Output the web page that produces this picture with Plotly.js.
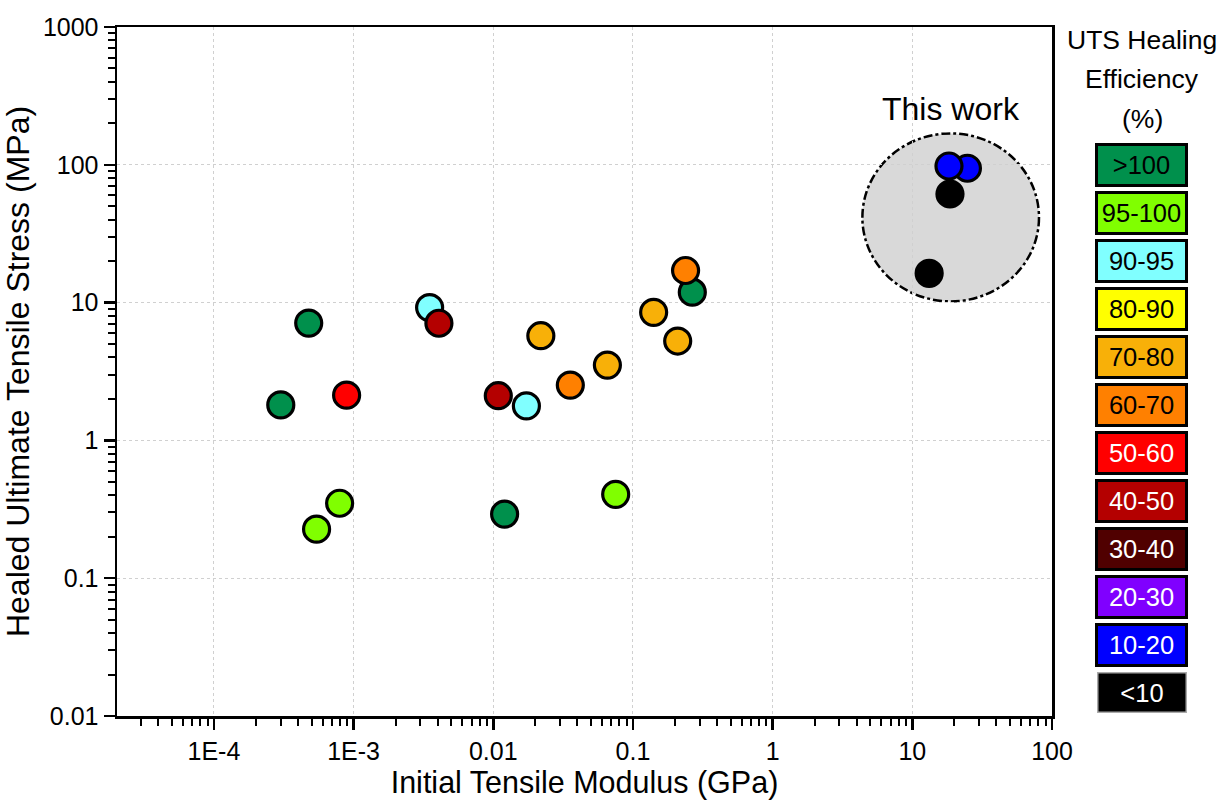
<!DOCTYPE html>
<html>
<head>
<meta charset="utf-8">
<script src="https://cdn.plot.ly/plotly-3.0.1.min.js"></script>
<style>html,body{margin:0;padding:0;background:#fff;}#chart{width:1223px;height:800px;}</style>
</head>
<body>
<div id="chart"></div>
<script>
// ---- Data ----
const modulusGPa = [3.01e-4, 4.77e-4, 8.91e-4, 7.94e-4, 5.43e-4, 3.50e-3, 4.08e-3, 0.0219, 0.01086, 0.01726, 0.0356, 0.0656, 0.266, 0.238, 0.1406, 0.209, 0.0752, 0.01205, 13.2, 18.6, 24.8, 18.3];
const healedUTS  = [1.81, 7.1, 2.13, 0.35, 0.227, 9.2, 7.08, 5.75, 2.11, 1.78, 2.52, 3.52, 11.9, 17.1, 8.5, 5.26, 0.406, 0.292, 16.3, 61.4, 94.4, 98];
const efficiencyClass = ['>100','>100','50-60','95-100','95-100','90-95','40-50','70-80','40-50','90-95','60-70','70-80','>100','60-70','70-80','70-80','95-100','>100','<10','<10','10-20','10-20'];

const classLabels = ['>100','95-100','90-95','80-90','70-80','60-70','50-60','40-50','30-40','20-30','10-20','<10'];
const classColors = ['#00904C','#80FF00','#80FFFF','#FFFF00','#F8B008','#FF8000','#FF0000','#B40000','#500000','#8000FF','#0000FF','#000000'];
const classTextColors = ['#000','#000','#000','#000','#000','#000','#fff','#fff','#fff','#fff','#fff','#fff'];

const xTickVals = [1e-4, 1e-3, 0.01, 0.1, 1, 10, 100];
const xTickText = ['1E-4','1E-3','0.01','0.1','1','10','100'];
const yTickVals = [0.01, 0.1, 1, 10, 100, 1000];
const yTickText = ['0.01','0.1','1','10','100','1000'];

// "This work" region (data coordinates)
const thisWorkX = [4.39, 80.7];
const thisWorkY = [10.2, 169];
const thisWorkLabel = {x: 18.8, y: 255, text: 'This work'};
const legendTitle = ['UTS Healing', 'Efficiency', '(%)'];

// ---- Layout helpers (pixel -> paper) ----
const L = 117, R = 1052, T = 27, B = 716;
const px = x => (x - L) / (R - L);
const py = y => (B - y) / (B - T);

const colorOf = c => classColors[classLabels.indexOf(c)];

const trace = {
  type: 'scatter', mode: 'markers',
  x: modulusGPa, y: healedUTS,
  marker: {
    size: 26,
    color: efficiencyClass.map(colorOf),
    line: {color: '#000', width: 3.2}
  },
  hoverinfo: 'x+y+text', text: efficiencyClass,
  showlegend: false
};

const font = 'Arial, "Liberation Sans", sans-serif';
const annotations = [];
annotations.push({
  xref: 'x', yref: 'y', x: Math.log10(thisWorkLabel.x), y: Math.log10(thisWorkLabel.y),
  text: thisWorkLabel.text, showarrow: false, font: {family: font, size: 32, color: '#000'}
});
const titleY = [40, 79, 119];
legendTitle.forEach((t, i) => annotations.push({
  xref: 'paper', yref: 'paper', x: px(1142), y: py(titleY[i]), xanchor: 'center', yanchor: 'middle',
  text: t, showarrow: false, font: {family: font, size: 26.5, color: '#000'}
}));
classLabels.forEach((lab, i) => annotations.push({
  xref: 'paper', yref: 'paper', x: px(1141.5), y: py(165 + i * 47.97), xanchor: 'center', yanchor: 'middle',
  text: lab.replace('<', '&lt;').replace('>', '&gt;'), showarrow: false,
  font: {family: font, size: 25.5, color: classTextColors[i]},
  bgcolor: classColors[i], bordercolor: i === classLabels.length - 1 ? '#aaa' : '#000',
  borderwidth: i === classLabels.length - 1 ? 1.5 : 3, borderpad: 0,
  width: 87, height: 38, valign: 'middle', align: 'center'
}));

const axisCommon = {
  type: 'log', showline: true, linecolor: '#000', linewidth: 2.5, mirror: true,
  ticks: 'outside', ticklen: 11, tickwidth: 2.5, tickcolor: '#000',
  tickfont: {family: font, size: 25, color: '#000'},
  showgrid: true, gridcolor: '#d0d0d0', gridwidth: 1, griddash: 'dot',
  zeroline: false, tickmode: 'array',
  minor: {ticks: 'outside', ticklen: 7, tickwidth: 2, tickcolor: '#000', dtick: 'D1', showgrid: false}
};

const layout = {
  width: 1223, height: 800,
  margin: {l: L, r: 1223 - R, t: T, b: 800 - B},
  paper_bgcolor: '#fff', plot_bgcolor: '#fff',
  font: {family: font, color: '#000'},
  xaxis: Object.assign({}, axisCommon, {
    range: [-4.694, 2], tickvals: xTickVals, ticktext: xTickText,
    title: {text: 'Initial Tensile Modulus (GPa)', font: {family: font, size: 30.5, color: '#000'}, standoff: 12}
  }),
  yaxis: Object.assign({}, axisCommon, {
    range: [-2, 3], tickvals: yTickVals, ticktext: yTickText,
    title: {text: 'Healed Ultimate Tensile Stress (MPa)', font: {family: font, size: 32, color: '#000'}, standoff: 8}
  }),
  shapes: [{
    type: 'circle', xref: 'x', yref: 'y', layer: 'below',
    x0: thisWorkX[0], x1: thisWorkX[1], y0: thisWorkY[0], y1: thisWorkY[1],
    fillcolor: '#d9d9d9', line: {color: '#000', width: 2.5, dash: 'dashdot'}
  }],
  annotations: annotations,
  showlegend: false
};

Plotly.newPlot('chart', [trace], layout, {displayModeBar: false, staticPlot: true});
</script>
</body>
</html>
